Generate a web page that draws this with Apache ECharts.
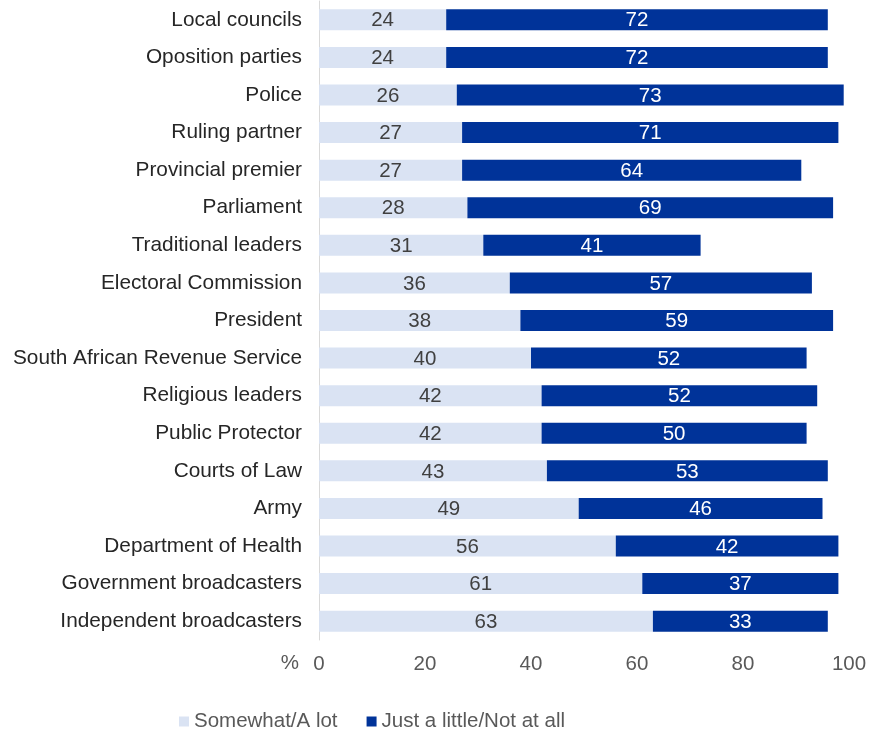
<!DOCTYPE html>
<html><head><meta charset="utf-8">
<script src="https://cdn.jsdelivr.net/npm/echarts@6/dist/echarts.min.js"></script>
<style>html,body{margin:0;padding:0;background:#fff}#c{width:871px;height:730px}</style>
</head><body><div id="c"></div>
<script>
const categories = ["Local councils","Oposition parties","Police","Ruling partner","Provincial premier","Parliament","Traditional leaders","Electoral Commission","President","South African Revenue Service","Religious leaders","Public Protector","Courts of Law","Army","Department of Health","Government broadcasters","Independent broadcasters"];
const somewhat = [24,24,26,27,27,28,31,36,38,40,42,42,43,49,56,61,63];
const little = [72,72,73,71,64,69,41,57,59,52,52,50,53,46,42,37,33];
const seriesNames = ["Somewhat/A lot","Just a little/Not at all"];
const xTicks = [0,20,40,60,80,100];

const font = "'Liberation Sans', Arial, sans-serif";
const chart = echarts.init(document.getElementById('c'));
chart.setOption({
  animation:false,
  textStyle:{fontFamily:font},
  grid:{left:319, right:22, top:1, bottom:90, containLabel:false},
  legend:{
    data:seriesNames, top:706, left:174, itemWidth:10, itemHeight:10, itemGap:29,
    icon:'rect', textStyle:{fontSize:20.5, color:'#595959', fontFamily:font}
  },
  xAxis:{
    type:'value', min:xTicks[0], max:xTicks[xTicks.length-1], interval:20,
    name:'%', nameLocation:'start', nameGap:20,
    nameTextStyle:{fontSize:20.5, color:'#595959', verticalAlign:'top', padding:[13,0,0,0]},
    axisLine:{show:false}, axisTick:{show:false}, splitLine:{show:false},
    axisLabel:{fontSize:20.5, color:'#595959', margin:14}
  },
  yAxis:{
    type:'category', data:categories, inverse:true,
    axisLine:{show:true, lineStyle:{color:'#d9d9d9', width:1}}, axisTick:{show:false},
    axisLabel:{fontSize:20.8, color:'#262626', margin:17, padding:[3,0,0,0]}
  },
  series:[
    {name:seriesNames[0], type:'bar', stack:'a', data:somewhat, barWidth:21,
     itemStyle:{color:'#DAE3F3'},
     label:{show:true, position:'inside', color:'#404040', fontSize:20.5, offset:[0,1]}},
    {name:seriesNames[1], type:'bar', stack:'a', data:little, barWidth:21,
     itemStyle:{color:'#003399'},
     label:{show:true, position:'inside', color:'#ffffff', fontSize:20.5, offset:[0,1]}}
  ]
});
</script></body></html>
